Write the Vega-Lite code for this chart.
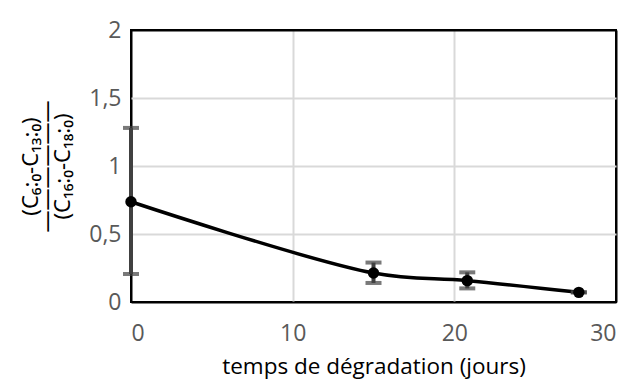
{
  "$schema": "https://vega.github.io/schema/vega-lite/v6.json",
  "width": 485,
  "height": 272,
  "autosize": {"type": "none"},
  "padding": {"left": 131, "top": 30, "right": 4, "bottom": 79},
  "background": "white",
  "config": {
    "view": {"stroke": "#000000", "strokeWidth": 2},
    "font": "Open Sans"
  },
  "data": {
    "values": [
      {"t": 0, "r": 0.737, "lo": 0.206, "hi": 1.28},
      {"t": 15, "r": 0.213, "lo": 0.14, "hi": 0.29},
      {"t": 20.8, "r": 0.157, "lo": 0.10, "hi": 0.218},
      {"t": 27.7, "r": 0.071, "lo": 0.071, "hi": 0.071}
    ]
  },
  "encoding": {
    "x": {
      "field": "t", "type": "quantitative",
      "scale": {"domain": [0, 30], "nice": false},
      "axis": {
        "values": [0, 10, 20, 30],
        "title": "temps de dégradation (jours)",
        "titleFont": "Open Sans", "titleFontSize": 22.5, "titleFontWeight": "normal", "titleColor": "#000000",
        "titlePadding": 10,
        "labelFontSize": 23, "labelColor": "#595959", "labelPadding": 20,
        "ticks": false, "domain": false,
        "gridColor": {"condition": {"test": "datum.value == 0 || datum.value == 30", "value": "#000000"}, "value": "#d9d9d9"},
        "gridWidth": 2
      }
    },
    "y": {
      "field": "r", "type": "quantitative",
      "scale": {"domain": [0, 2], "nice": false},
      "axis": {
        "values": [0, 0.5, 1, 1.5, 2],
        "format": ",.1~f",
        "labelExpr": "replace(datum.label, '.', ',')",
        "title": ["(C₆:₀-C₁₃:₀)", "――――――", "(C₁₆:₀-C₁₈:₀)"],
        "titleFont": "Noto Sans", "titleFontSize": 22, "titleFontWeight": "normal", "titleColor": "#000000",
        "titleLineHeight": 16,
        "titlePadding": 14,
        "labelFontSize": 23, "labelColor": "#595959", "labelPadding": 10,
        "ticks": false, "domain": false,
        "gridColor": {"condition": {"test": "datum.value == 0 || datum.value == 2", "value": "#000000"}, "value": "#d9d9d9"},
        "gridWidth": 2
      }
    }
  },
  "layer": [
    {
      "mark": {"type": "line", "interpolate": "catmull-rom", "color": "#000000", "strokeWidth": 3.5}
    },
    {
      "mark": {"type": "rule", "color": "#404040", "strokeWidth": 4},
      "encoding": {"y": {"field": "lo", "type": "quantitative"}, "y2": {"field": "hi"}}
    },
    {
      "mark": {"type": "tick", "color": "#404040", "thickness": 4, "size": 16, "orient": "horizontal"},
      "encoding": {"y": {"field": "lo", "type": "quantitative"}}
    },
    {
      "mark": {"type": "tick", "color": "#404040", "thickness": 4, "size": 16, "orient": "horizontal"},
      "encoding": {"y": {"field": "hi", "type": "quantitative"}}
    },
    {
      "mark": {"type": "point", "filled": true, "color": "#000000", "size": 130, "opacity": 1}
    }
  ]
}
